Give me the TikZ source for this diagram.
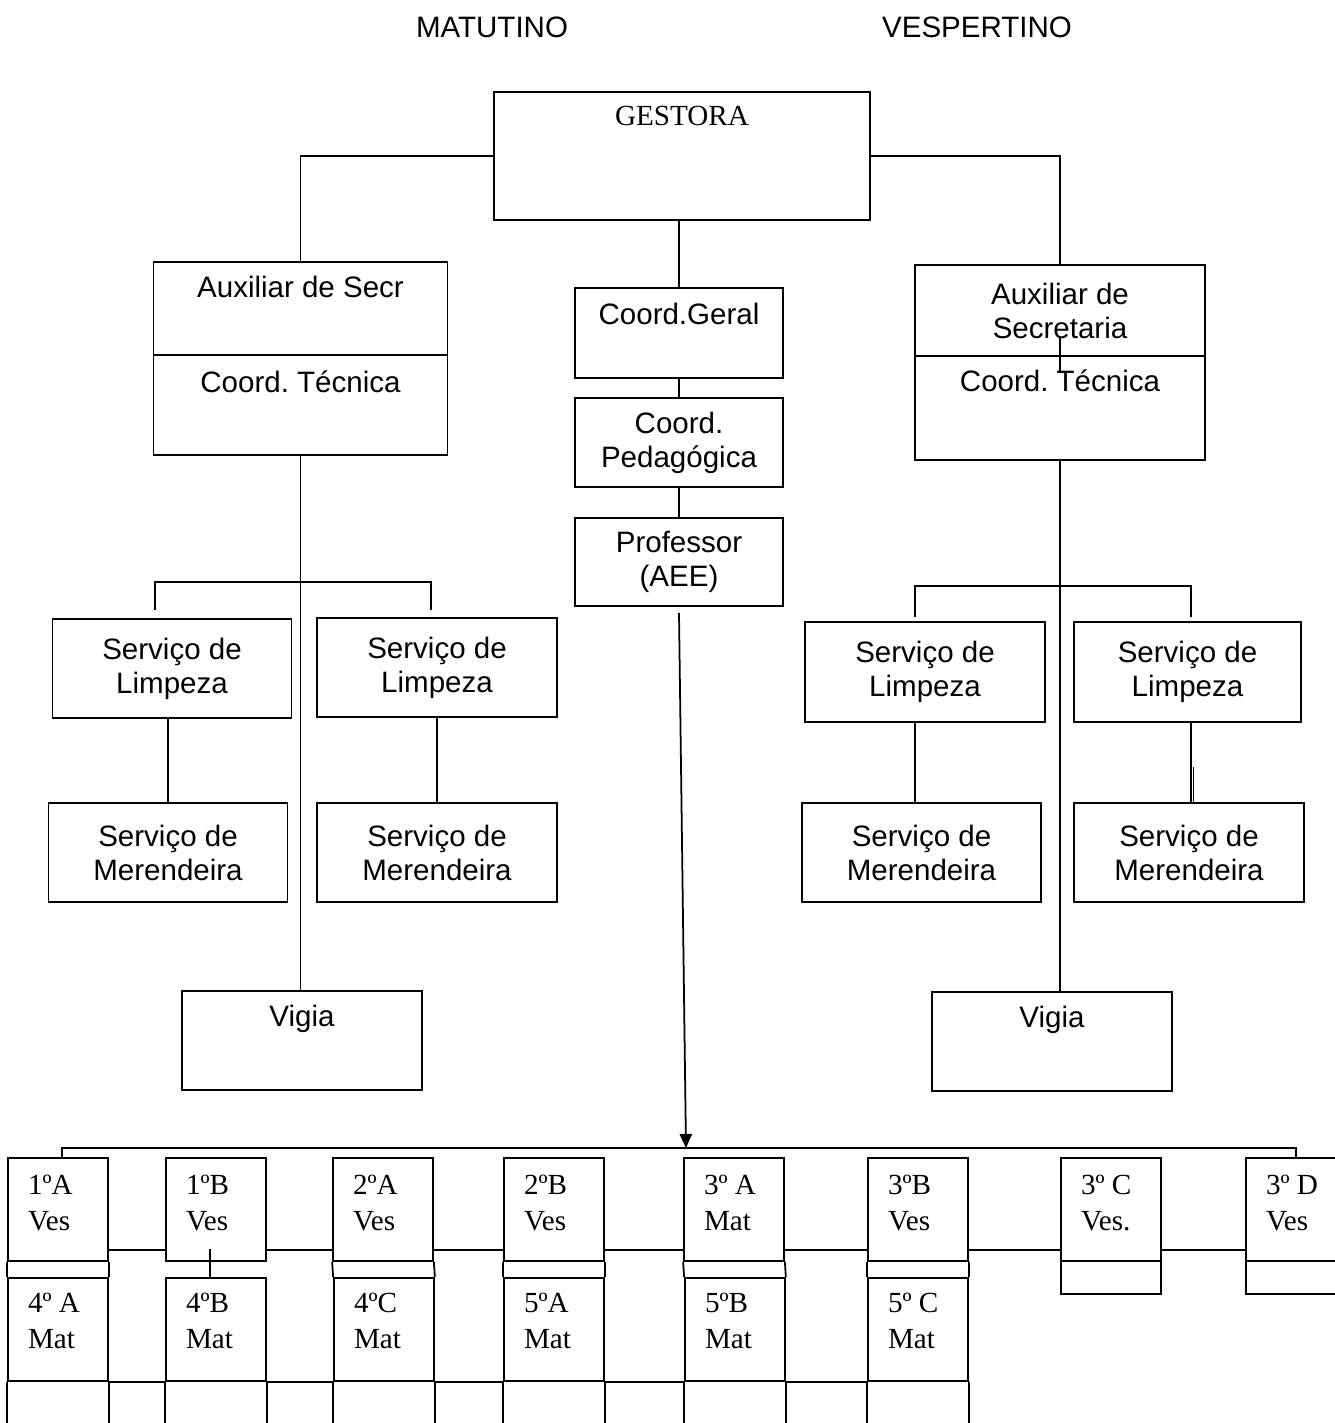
\documentclass[tikz,border=0pt]{standalone}
\usepackage{fontspec}
\setmainfont{Liberation Serif}
\setsansfont{Liberation Sans}
\usetikzlibrary{arrows.meta,positioning}
\frenchspacing

\begin{document}
\begin{tikzpicture}[x=0.02cm, y=-0.02cm, line width=1pt,
  box/.style={draw, inner sep=0pt, align=center, font=\sffamily\fontsize{16.8}{19.3}\selectfont},
  wh/.style 2 args={minimum width=#1*0.02cm, minimum height=#2*0.02cm},
  ttl/.style={anchor=base, inner sep=0pt, font=\sffamily\fontsize{16.8}{19.3}\selectfont},
  cell/.style={draw, inner sep=0pt, minimum width=2cm},
  cls/.style={anchor=base west, inner sep=0pt, align=left, font=\rmfamily\fontsize{16.6}{20.5}\selectfont},
]
  \useasboundingbox (0,0) rectangle (1335,1423);
  \clip (0,0) rectangle (1335,1423);

  % turnos
  \node[ttl, anchor=center] (mat) at (492,27) {MATUTINO};
  \node[ttl, anchor=center] (vesp) at (977,27) {VESPERTINO};

  % gestora
  \node[box, wh={376}{128}] (gest) at (682,156) {};
  \node[ttl, font=\rmfamily\fontsize{16.6}{20}\selectfont] (gestT) at ([yshift=-0.68cm]gest.north) {GESTORA};

  % lado matutino
  \node[box, wh={294}{93}] (auxLa) at (300.5,308.5) {};
  \node[ttl] (auxLaT) at ([yshift=-0.72cm]auxLa.north) {Auxiliar de Secr};
  \node[box, wh={294}{100}] (auxLb) at (300.5,405) {};
  \node[ttl] (auxLbT) at ([yshift=-0.76cm]auxLb.north) {Coord. Técnica};
  \node[box, wh={239}{99}] (limL1) at (172,668.5) {Serviço de\\Limpeza};
  \node[box, wh={240}{99}] (limL2) at (437,667.5) {Serviço de\\Limpeza};
  \node[box, wh={239}{99}] (merL1) at (168,852.5) {Serviço de\\Merendeira};
  \node[box, wh={240}{99}] (merL2) at (437,852.5) {Serviço de\\Merendeira};
  \node[box, wh={240}{99}] (vigL) at (302,1040.5) {};
  \node[ttl] (vigLT) at ([yshift=-0.72cm]vigL.north) {Vigia};

  % coordenacao
  \node[box, wh={208}{90}] (geral) at (679,333) {};
  \node[ttl] (geralT) at ([yshift=-0.74cm]geral.north) {Coord.Geral};
  \node[box, wh={208}{89}] (pedag) at (679,442.5) {Coord.\\Pedagógica};
  \node[box, wh={208}{88}] (prof) at (679,562) {Professor\\(AEE)};

  % lado vespertino
  \node[box, wh={290}{91}] (auxRa) at (1060,310.5) {Auxiliar de\\Secretaria};
  \node[box, wh={290}{104}] (auxRb) at (1060,408) {};
  \node[ttl] (auxRbT) at ([yshift=-0.72cm]auxRb.north) {Coord. Técnica};
  \node[box, wh={240}{100}] (limR1) at (925,672) {Serviço de\\Limpeza};
  \node[box, wh={227}{100}] (limR2) at (1187.5,672) {Serviço de\\Limpeza};
  \node[box, wh={239}{99}] (merR1) at (921.5,852.5) {Serviço de\\Merendeira};
  \node[box, wh={230}{99}] (merR2) at (1189,852.5) {Serviço de\\Merendeira};
  \node[box, wh={240}{99}] (vigR) at (1052,1041.5) {};
  \node[ttl] (vigRT) at ([yshift=-0.72cm]vigR.north) {Vigia};

  % turmas
  \foreach \i/\x/\a/\b in {1/58/1ºA/Ves, 2/216/1ºB/Ves, 3/383/2ºA/Ves, 4/554/2ºB/Ves,
      5/734/3º A/Mat, 6/918/3ºB/Ves, 7/1111/3º C/Ves., 8/1296/3º D/Ves} {
    \node[cell, minimum height=2.06cm] (t\i) at (\x,1209.5) {};
    \node[cls] (t\i txt) at ([xshift=0.4cm,yshift=-1.46cm]t\i.north west) {\a\\\b};
  }
  \foreach \i/\x/\a/\b in {1/58/4º A/Mat, 2/216/4ºB/Mat, 3/384/4ºC/Mat, 4/554/5ºA/Mat,
      5/735/5ºB/Mat, 6/918/5º C/Mat} {
    \node[cell, minimum height=2.06cm] (b\i) at (\x,1329.5) {};
    \node[cls] (b\i txt) at ([xshift=0.4cm,yshift=-1.42cm]b\i.north west) {\a\\\b};
    \draw (b\i.south west) -- ++(0,60);
    \draw (b\i.south east) -- ++(0,60);
  }
  \node[cell, minimum height=0.66cm] (b7) at (1111,1277.5) {};
  \node[cell, minimum height=0.66cm] (b8) at (1296,1277.5) {};

  % ligacoes
  \coordinate (jL) at (301,582);
  \coordinate (dL1) at (155,610);
  \coordinate (dL2) at (431,610);
  \coordinate (jR) at (1060,586);
  \coordinate (dR1) at (915,617);
  \coordinate (dR2) at (1191,617);
  \coordinate (busL) at (62,1148);
  \coordinate (busR) at (1296,1148);
  \coordinate (tip) at (686,1148);

  \draw (gest.west) -| (auxLa.north);
  \draw (gest.east) -| (auxRa.north);
  \draw (geral.north |- gest.south) -- (geral.north);
  \draw (geral.south) -- (pedag.north);
  \draw (pedag.south) -- (prof.north);
  \draw[-{Triangle[width=7pt,length=8pt]}] ([yshift=-0.12cm]prof.south) -- (tip);

  \draw (auxLb.south) -- (auxLb.south |- vigL.north);
  \draw (dL1) |- (jL) -| (dL2);
  \draw (merL1.north) -- (merL1.north |- limL1.south);
  \draw (merL2.north) -- (merL2.north |- limL2.south);

  \draw ([yshift=-1.44cm]auxRa.north) -- ++(0,36);
  \draw (auxRb.south) -- (auxRb.south |- vigR.north);
  \draw (dR1) |- (jR) -| (dR2);
  \draw (limR1.south -| dR1) -- (merR1.north -| dR1);
  \draw (limR2.south -| dR2) -- (merR2.north -| dR2);
  \draw ([xshift=0.05cm]merR2.north -| dR2) -- ++(0,-35);

  \draw (t1.north -| busL) -- (busL) -- (busR) -- (t8.north);
  \foreach \i/\j in {1/2,2/3,3/4,4/5,5/6,6/7,7/8}
    \draw ([yshift=0.24cm]t\i.south east) -- ([yshift=0.24cm]t\j.south west);
  \foreach \i/\j in {1/2,2/3,3/4,4/5,5/6}
    \draw (b\i.south east) -- (b\j.south west);
  \foreach \i in {1,3,4,5,6} {
    \draw (t\i.south west) -- (b\i.north west);
    \draw (t\i.south east) -- (b\i.north east);
  }
  \draw ([xshift=-0.12cm]b2.north) -- ++(0,-28);
\end{tikzpicture}
\end{document}
